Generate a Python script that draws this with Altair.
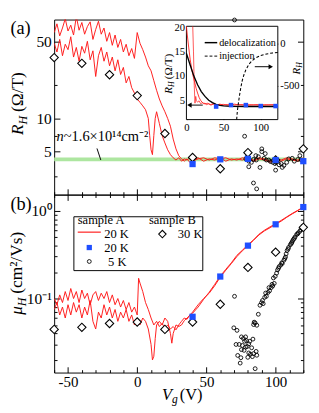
import altair as alt
import pandas as pd

FONT = "Liberation Serif"
W, HA, HB = 259, 182, 185
RED = "#ff1a1a"
BLUE = "#1f4fff"
GREEN = "#ade6a0"

# ---------------- data ----------------
# panel (a): sample A, 20 K, two sweeps, R_H (Ohm/T) vs Vg (V)
a1_v = [-60, -58, -56, -54, -52, -50, -48, -46, -44, -42, -40, -38, -36, -34, -32, -30, -28, -26, -24, -22,
        -20, -18, -16, -14, -12, -10, -8, -6, -4, -2, 0, 2, 4, 6, 8, 10, 12, 14, 16, 18,
        20, 22, 24, 26, 28, 30, 32, 34, 36, 38, 40, 44, 48, 52, 56, 60, 64, 68, 72, 76,
        80, 84, 88, 92, 96, 100, 104, 108, 112, 116, 120]
a1_r = [60, 72, 56, 66, 80, 62, 70, 57, 84, 63, 74, 58, 68, 75, 52, 64, 76, 58, 66, 50,
        60, 46, 57, 44, 52, 40, 47, 37, 43, 35, 60, 48, 42, 36, 30, 27, 22, 18, 15, 13,
        11.5, 10, 8.5, 6.5, 5.3, 4.6, 4.3, 4.1, 4.3, 4.0, 4.2, 4.4, 4.1, 4.3, 4.2, 4.4, 4.1, 4.3, 4.2, 4.4,
        4.3, 4.1, 4.3, 4.2, 4.0, 4.2, 4.1, 4.3, 4.2, 4.1, 4.3]
b1_v = [-60, -58, -56, -54, -52, -50, -48, -46, -44, -42, -40, -38, -36, -34, -32, -30, -28, -26, -24, -22,
        -20, -18, -16, -14, -12, -10, -8, -6, -4, -2, 0, 2, 4, 6, 8, 9, 10, 11, 12, 13, 14,
        16, 18, 20, 22, 24, 26, 28, 30, 32, 34, 36, 38, 40,
        44, 48, 52, 56, 60, 64, 68, 72, 76, 80, 84, 88, 92, 96, 100, 104, 108, 112, 116, 120]
b1_r = [48, 40, 52, 37, 47, 42, 55, 36, 44, 33, 45, 39, 50, 34, 41, 24, 37, 44, 33, 40,
        30, 36, 27, 34, 25, 29, 21, 24, 19, 17, 15, 14, 13, 12, 10, 7, 5.2, 4.7, 7, 10, 11.5,
        9, 7, 6, 5.2, 4.7, 4.4, 4.2, 4.4, 4.1, 4.3, 4.2, 4.4, 4.1,
        4.3, 4.4, 4.2, 4.4, 4.3, 4.4, 4.2, 4.3, 4.2, 4.4, 4.2, 4.4, 4.3, 4.1, 4.3, 4.2, 4.4, 4.3, 4.2, 4.4]

# panel (b): sample A, 20 K, two sweeps, mobility (cm^2/Vs)
a2_v = [-60, -58, -56, -54, -52, -50, -48, -46, -44, -42, -40, -38, -36, -34, -32, -30, -28, -26, -24, -22,
        -20, -18, -16, -14, -12, -10, -8, -6, -4, -2, 0, 1,
        2, 4, 6, 8, 10, 12, 14, 16, 18, 20, 22, 24, 26, 28, 30, 32, 34, 36, 38, 40,
        44, 48, 52, 56, 60, 64, 68, 72, 76, 80, 84, 88, 92, 96, 100, 104, 108, 112, 116, 120]
a2_r = [0.10, 0.085, 0.11, 0.09, 0.12, 0.095, 0.13, 0.10, 0.12, 0.09, 0.125, 0.10, 0.115, 0.085, 0.11, 0.12,
        0.095, 0.115, 0.10, 0.12, 0.09, 0.11, 0.085, 0.10, 0.08, 0.095, 0.075, 0.09, 0.07, 0.08, 0.065, 0.17,
        0.15, 0.12, 0.09, 0.075, 0.06, 0.05, 0.055, 0.048, 0.052, 0.046, 0.05, 0.045, 0.048, 0.044, 0.05,
        0.055, 0.06, 0.058, 0.065, 0.07,
        0.085, 0.10, 0.115, 0.14, 0.175, 0.21, 0.25, 0.30, 0.35, 0.40, 0.46, 0.53, 0.59, 0.64, 0.70, 0.76,
        0.84, 0.92, 1.0, 1.1]
b2_v = [-60, -58, -56, -54, -52, -50, -48, -46, -44, -42, -40, -38, -36, -34, -32, -30, -28, -26, -24, -22,
        -20, -18, -16, -14, -12, -10, -8, -6, -4, -2, 0, 2, 4, 6, 8, 10, 11, 12, 13, 14,
        16, 18, 20, 22, 24, 25, 26, 28, 30, 32, 34, 36, 38, 40,
        44, 48, 52, 56, 60, 64, 68, 72, 76, 80, 84, 88, 92, 96, 100, 104, 108, 112, 116, 120]
b2_r = [0.075, 0.09, 0.065, 0.08, 0.06, 0.085, 0.065, 0.09, 0.07, 0.085, 0.06, 0.08, 0.065, 0.095, 0.055,
        0.045, 0.07, 0.06, 0.085, 0.065, 0.08, 0.06, 0.075, 0.055, 0.07, 0.06, 0.075, 0.055, 0.065, 0.05,
        0.055, 0.05, 0.06, 0.055, 0.045, 0.03, 0.02, 0.022, 0.035, 0.05,
        0.055, 0.05, 0.06, 0.055, 0.04, 0.031, 0.04, 0.05, 0.048, 0.05, 0.056, 0.06, 0.064, 0.068,
        0.08, 0.098, 0.118, 0.145, 0.18, 0.215, 0.255, 0.31, 0.355, 0.41, 0.465, 0.54, 0.60, 0.655, 0.71,
        0.775, 0.85, 0.93, 1.01, 1.1]

# sample A, 20 K, Hall-bar squares
sqA_v = [40, 60, 80, 100, 120]
sqA_r = [3.86, 4.26, 4.3, 4.2, 4.1]
sqB_mu = [0.062, 0.178, 0.40, 0.70, 1.1]

# sample B, 30 K diamonds
dia_v = [-60, -40, -20, 0, 20, 40, 60, 80, 100, 120]
dia_r = [35.6, 31.6, 24.9, 16.1, 7.3, 4.43, 3.5, 4.9, 4.2, 5.3]
dia_mu = [0.0445, 0.047, 0.052, 0.054, 0.0445, 0.054, 0.086, 0.226, 0.337, 0.646]

# sample A, 5 K circles, panel (a)
c5a_v = [70.3, 77.6, 79.5, 80.6, 82.5, 80.6, 84, 85.7, 87.5, 90, 88.7, 91.7, 93.3, 95, 96.3, 98, 99.5,
         101, 102.5, 104, 104.8, 106, 100, 108, 109.5, 112, 113.5, 116, 117.5, 118.5, 84, 86.3, 80.6,
         90, 92.5, 86, 78.5]
c5a_r = [78, 6.9, 4.5, 4.1, 4.0, 3.65, 4.25, 4.6, 4.5, 5.0, 3.6, 4.35, 4.2, 4.2, 4.07, 4.0, 3.9,
         4.1, 3.8, 3.9, 3.6, 3.75, 3.4, 4.0, 4.3, 4.35, 4.1, 4.25, 4.6, 4.2, 2.6, 2.3, 4.9,
         5.3, 4.8, 4.2, 4.3]
# sample A, 5 K circles, panel (b)
c5b_v = [70.3, 69.8, 72.1, 71.4, 73.7, 75.3, 76.7, 78.3, 77.6, 76.0, 75.3, 77.2, 79.5, 80.6, 81.3, 83.6,
         82.7, 80.6, 81.8, 79.9, 84.1, 85.9, 86.4, 83.2, 72.6, 74.9, 74.4, 85.2, 79.0, 78.3,
         84.1, 85.2, 86.4, 84.5, 87.5, 88.7, 89.8, 91.0, 90.5, 92.1, 93.3, 92.8, 94.5, 95.6, 95.2, 96.8,
         97.4, 97.9, 99.0, 98.4, 99.7, 100.7, 101.4, 102.1, 102.5, 103.7, 104.4, 104.8, 106.0, 106.6,
         107.1, 107.6, 108.3, 109.0, 109.4, 110.6, 111.3, 111.7, 112.2, 112.9, 113.5, 114.0, 115.2,
         115.9, 116.3, 117.5, 118.2, 119.1]
c5b_mu = [0.106, 0.0464, 0.0434, 0.0300, 0.0300, 0.0366, 0.0351, 0.0366, 0.0326, 0.0292, 0.0262, 0.0257,
          0.0284, 0.0305, 0.0326, 0.0345, 0.0275, 0.0240, 0.0232, 0.0214, 0.0236, 0.0250, 0.0226, 0.0218,
          0.0225, 0.0212, 0.0184, 0.0159, 0.0331, 0.0280,
          0.0505, 0.0527, 0.0496, 0.0538, 0.0662, 0.0838, 0.0897, 0.0874, 0.095, 0.1033, 0.106, 0.1155,
          0.1173, 0.1224, 0.1332, 0.1332, 0.145, 0.139, 0.1487, 0.1715, 0.179, 0.1945, 0.212, 0.221,
          0.2306, 0.2405, 0.255, 0.2505, 0.273, 0.2845, 0.297, 0.3225, 0.3515, 0.366, 0.382, 0.409,
          0.423, 0.434, 0.453, 0.472, 0.484, 0.502, 0.536, 0.545, 0.559, 0.583, 0.607, 0.635]

# inset: R_H (Ohm/T) 0-120 V
ia_v = [0, 1, 3, 5, 7, 9, 11, 13, 15, 17, 19, 21, 23, 25, 27, 30, 33, 36, 40, 45, 50, 55, 60, 65, 70,
        75, 80, 85, 90, 95, 100, 105, 110, 115, 120]
ia_r = [20.3, 18.7, 16, 13.5, 11.5, 10, 8.8, 7.5, 6.5, 5.6, 5.0, 4.6, 4.3, 4.4, 4.1, 4.3, 4.0, 4.2, 4.0,
        4.2, 4.0, 4.1, 4.0, 4.2, 4.0, 4.1, 3.95, 4.1, 4.0, 4.1, 3.95, 4.1, 4.0, 4.1, 4.0]
ib_v = [8.5, 9.5, 10.5, 11.5, 12.5, 13.5, 15, 17, 19, 22, 25, 28, 32, 36, 40, 45, 50, 55, 60, 65, 70, 75,
        80, 85, 90, 95, 100, 105, 110, 115, 120]
ib_r = [20.3, 15, 8, 4.4, 5.8, 4.9, 4.6, 4.9, 4.3, 4.5, 4.2, 4.4, 4.1, 4.3, 4.0, 4.1, 4.15, 4.0, 4.1, 4.0,
        4.15, 4.0, 4.1, 3.95, 4.1, 4.0, 4.05, 3.95, 4.1, 4.0, 4.05]
isq_v = [40, 60, 80, 100, 120]
isq_r = [3.7, 4.0, 4.0, 3.8, 3.8]
deloc_v = [0, 5, 10, 15, 20, 25, 30, 35, 40, 45, 50, 60, 80, 100, 123]
deloc_r = [14.7, 12.3, 10.0, 8.2, 6.8, 5.8, 5.0, 4.5, 4.15, 3.95, 3.85, 3.75, 3.7, 3.7, 3.7]
inj_v = [67.6, 68.5, 70, 71.5, 73, 75, 77.5, 80, 84, 88, 93, 100, 108, 116, 123]
inj_r = [-898, -800, -700, -610, -530, -440, -365, -310, -245, -205, -170, -140, -122, -110, -104]

minor_x = [-60, -40, -30, -20, -10, 10, 20, 30, 40, 60, 70, 80, 90, 110, 120]
minor_mu = [0.02, 0.03, 0.04, 0.05, 0.06, 0.07, 0.08, 0.09, 0.2, 0.3, 0.4, 0.5, 0.6, 0.7, 0.8, 0.9]

# ---------------- helpers ----------------
one = pd.DataFrame({"k": [0]})
dummy = pd.DataFrame({"v": [0.0], "r": [1.0]})


def D(v, r):
    return pd.DataFrame({"v": v, "r": r, "i": list(range(len(v)))})


def sxa():
    return alt.Scale(domain=[-60, 120], nice=False, zero=False)


def sya():
    return alt.Scale(type="log", domain=[2.04, 78.7], nice=False)


def syb():
    return alt.Scale(type="log", domain=[0.01435, 1.524], nice=False)


def sxi():
    return alt.Scale(domain=[0, 123], range=[137.5, 232.5], nice=False, zero=False)


def syi():
    return alt.Scale(domain=[1.0, 20.3], range=[104, 7], nice=False, zero=False)


def syi2():
    return alt.Scale(domain=[-898, 204.5], range=[104, 7], nice=False, zero=False)


def line(d, xs, ys, color=RED, sw=1.0, dash=None, clip=False, opacity=1.0):
    m = dict(color=color, strokeWidth=sw, clip=clip, opacity=opacity)
    if dash:
        m["strokeDash"] = dash
    return alt.Chart(d).mark_line(**m).encode(
        x=alt.X("v:Q", scale=xs, axis=None),
        y=alt.Y("r:Q", scale=ys, axis=None),
        order=alt.Order("i:Q"))


def points(d, xs, ys, **m):
    return alt.Chart(d).mark_point(**m).encode(
        x=alt.X("v:Q", scale=xs, axis=None),
        y=alt.Y("r:Q", scale=ys, axis=None))


def ax(orient, values, size, labels=False, expr=None, fs=16, pad=3, offset=None):
    kw = dict(orient=orient, values=values, tickSize=size, domain=False, grid=False,
              labels=labels, title=None, ticks=True, tickColor="black", tickWidth=1,
              offset=(-size if offset is None else offset),
              labelFont=FONT, labelFontSize=fs, labelColor="black", labelPadding=pad,
              labelOverlap=False, labelBound=False, labelFlush=False)
    if expr:
        kw["labelExpr"] = expr
    return alt.Axis(**kw)


def axes(xs=None, ys=None, xaxis=None, yaxis=None):
    enc = {}
    if xs is not None:
        enc["x"] = alt.X("v:Q", scale=xs, axis=xaxis)
    if ys is not None:
        enc["y"] = alt.Y("r:Q", scale=ys, axis=yaxis)
    return alt.Chart(dummy).mark_point(opacity=0).encode(**enc)


def txt(s, x, y, fs=14, style="normal", align="left", baseline="middle", angle=0):
    m = dict(text=s, font=FONT, fontSize=fs, fontStyle=style, align=align,
             baseline=baseline, color="black")
    if angle:
        m["angle"] = angle
    return alt.Chart(one).mark_text(**m).encode(x=alt.value(x), y=alt.value(y))


NUM = "'' + datum.value"

# ---------------- panel (a) ----------------
pa = [
    axes(sxa(), sya(), ax("bottom", [-50, 0, 50, 100], 6),
         ax("left", [5, 10, 50], 6, labels=True, expr=NUM, fs=16, pad=3)),
    axes(sxa(), sya(), ax("bottom", minor_x, 3), ax("left", [3, 7, 20], 3)),
    axes(None, sya(), None, ax("right", [5, 10, 50], 6)),
    axes(None, sya(), None, ax("right", [3, 7, 20], 3)),
    alt.Chart(one).mark_rule(color=GREEN, strokeWidth=4).encode(
        y=alt.Y(datum=4.25, scale=sya(), axis=None)),
    alt.Chart(one).mark_rule(color="black", strokeWidth=1).encode(
        x=alt.value(44.5), x2=alt.value(48.5), y=alt.value(134), y2=alt.value(146)),
    txt("n", 2.5, 126, fs=15, style="italic", baseline="alphabetic"),
    txt("~1.6×10¹⁴cm⁻²", 10, 126, fs=15, baseline="alphabetic"),
    line(D(a1_v, a1_r), sxa(), sya(), clip=True),
    line(D(b1_v, b1_r), sxa(), sya(), clip=True),
    points(D(c5a_v, c5a_r), sxa(), sya(), shape="circle", size=16, filled=False,
           color="black", strokeWidth=0.9, opacity=1),
    points(D(dia_v, dia_r), sxa(), sya(), shape="diamond", size=75, filled=True,
           fill="white", stroke="black", strokeWidth=1.1, opacity=1),
    points(D(sqA_v, sqA_r), sxa(), sya(), shape="square", size=42, filled=True,
           color=BLUE, opacity=1),
    txt("(a)", -45.5, 9, fs=19),
    txt("R", -32, 120, fs=18, style="italic", baseline="alphabetic", angle=270),
    txt("H", -28, 109, fs=12.5, style="italic", baseline="alphabetic", angle=270),
    txt("(Ω/T)", -32, 96, fs=18, baseline="alphabetic", angle=270),
    # ---- inset ----
    alt.Chart(one).mark_rect(fill="white", stroke="black", strokeWidth=1).encode(
        x=alt.X(datum=0, scale=sxi(), axis=None), x2=alt.X2(datum=123),
        y=alt.Y(datum=1.0, scale=syi(), axis=None), y2=alt.Y2(datum=20.3)),
    axes(sxi(), syi(),
         ax("bottom", [0, 50, 100], 3, labels=True, expr=NUM, fs=11, pad=2, offset=-(HA - 104 + 3)),
         ax("left", [5, 10, 15, 20], 3, labels=True, expr=NUM, fs=11, pad=2, offset=-(137.5 + 3))),
    axes(None, syi2(), None,
         ax("right", [0, -500], 3, labels=True, expr="datum.value == 0 ? '0' : '-500'",
            fs=11, pad=2, offset=-(W - 232.5 + 3))),
    line(D(ia_v, ia_r), sxi(), syi(), opacity=0.9),
    line(D(ib_v, ib_r), sxi(), syi(), opacity=0.75),
    line(D(deloc_v, deloc_r), sxi(), syi(), color="black", sw=1.4),
    line(D(inj_v, inj_r), sxi(), syi2(), color="black", sw=1.1, dash=[3, 2]),
    points(D(isq_v, isq_r), sxi(), syi(), shape="square", size=22, filled=True,
           color=BLUE, opacity=1),
    alt.Chart(one).mark_rule(color="black", strokeWidth=1.5).encode(
        x=alt.value(156.5), x2=alt.value(169.5), y=alt.value(24)),
    alt.Chart(one).mark_rule(color="black", strokeWidth=1, strokeDash=[3, 2]).encode(
        x=alt.value(156.5), x2=alt.value(169.5), y=alt.value(38)),
    txt("delocalization", 171.5, 24, fs=10.5),
    txt("injection", 171.5, 38, fs=10.5),
    alt.Chart(one).mark_rule(color="black", strokeWidth=1).encode(
        x=alt.X(datum=22, scale=sxi(), axis=None), x2=alt.X2(datum=5),
        y=alt.Y(datum=4.0, scale=syi(), axis=None)),
    alt.Chart(one).mark_point(shape="triangle-left", filled=True, color="black", size=28,
                              opacity=1).encode(
        x=alt.X(datum=4, scale=sxi(), axis=None), y=alt.Y(datum=4.0, scale=syi(), axis=None)),
    alt.Chart(one).mark_rule(color="black", strokeWidth=1).encode(
        x=alt.X(datum=92, scale=sxi(), axis=None), x2=alt.X2(datum=112),
        y=alt.Y(datum=-273, scale=syi2(), axis=None)),
    alt.Chart(one).mark_point(shape="triangle-right", filled=True, color="black", size=28,
                              opacity=1).encode(
        x=alt.X(datum=113.5, scale=sxi(), axis=None), y=alt.Y(datum=-273, scale=syi2(), axis=None)),
    txt("R", 122.5, 77, fs=11.5, style="italic", baseline="alphabetic", angle=270),
    txt("H", 125, 70, fs=8, style="italic", baseline="alphabetic", angle=270),
    txt("(Ω/T)", 122.5, 62, fs=11.5, baseline="alphabetic", angle=270),
    txt("R", 255.5, 57, fs=11.5, style="italic", baseline="alphabetic", angle=270),
    txt("H", 258, 50, fs=8, style="italic", baseline="alphabetic", angle=270),
]
panel_a = alt.layer(*pa).resolve_scale(x="independent", y="independent").properties(
    width=W, height=HA)

# ---------------- panel (b) ----------------
pb = [
    axes(sxa(), syb(), ax("bottom", [-50, 0, 50, 100], 6, labels=True, expr=NUM, fs=15.5, pad=2),
         ax("left", [0.1, 1], 6, labels=True, expr="datum.value == 1 ? '10⁰' : '10⁻¹'", fs=16, pad=3)),
    axes(sxa(), syb(), ax("bottom", minor_x, 3), ax("left", minor_mu, 3)),
    axes(sxa(), syb(), ax("top", [-50, 0, 50, 100], 6), ax("right", [0.1, 1], 6)),
    axes(sxa(), syb(), ax("top", minor_x, 3), ax("right", minor_mu, 3)),
    line(D(a2_v, a2_r), sxa(), syb(), clip=True),
    line(D(b2_v, b2_r), sxa(), syb(), clip=True),
    points(D(c5b_v, c5b_mu), sxa(), syb(), shape="circle", size=16, filled=False,
           color="black", strokeWidth=0.9, opacity=1),
    points(D(dia_v, dia_mu), sxa(), syb(), shape="diamond", size=75, filled=True,
           fill="white", stroke="black", strokeWidth=1.1, opacity=1),
    points(D(sqA_v, sqB_mu), sxa(), syb(), shape="square", size=42, filled=True,
           color=BLUE, opacity=1),
    # legend
    alt.Chart(one).mark_rect(fill="white", stroke="black", strokeWidth=1).encode(
        x=alt.value(20.5), x2=alt.value(154.5), y=alt.value(23), y2=alt.value(79)),
    txt("sample A", 24.5, 27, fs=13),
    alt.Chart(one).mark_rule(color=RED, strokeWidth=1.2).encode(
        x=alt.value(24.5), x2=alt.value(48.5), y=alt.value(39)),
    txt("20 K", 52, 41.5, fs=13),
    alt.Chart(one).mark_point(shape="square", size=30, filled=True, color=BLUE, opacity=1).encode(
        x=alt.value(36.5), y=alt.value(55)),
    txt("20 K", 52, 56, fs=13),
    alt.Chart(one).mark_point(shape="circle", size=16, filled=False, color="black",
                              strokeWidth=0.9, opacity=1).encode(x=alt.value(36.5), y=alt.value(69.5)),
    txt("5 K", 56, 70.5, fs=13),
    txt("sample B", 98.5, 27, fs=13),
    alt.Chart(one).mark_point(shape="diamond", size=60, filled=True, fill="white", stroke="black",
                              strokeWidth=1.1, opacity=1).encode(x=alt.value(112.5), y=alt.value(41)),
    txt("30 K", 128.5, 41.5, fs=13),
    txt("(b)", -45.5, 10, fs=19),
    txt("μ", -33, 125, fs=18, style="italic", baseline="alphabetic", angle=270),
    txt("H", -29, 116, fs=12.5, style="italic", baseline="alphabetic", angle=270),
    txt("(cm²/Vs)", -33, 103, fs=18, baseline="alphabetic", angle=270),
    txt("V", 112, 213.5, fs=17, style="italic", baseline="alphabetic"),
    txt("g", 122.5, 216.5, fs=12, style="italic", baseline="alphabetic"),
    txt("(V)", 130.5, 213.5, fs=17, baseline="alphabetic"),
]
panel_b = alt.layer(*pb).resolve_scale(x="independent", y="independent").properties(
    width=W, height=HB)

chart = alt.vconcat(panel_a, panel_b, spacing=0, bounds="flush").resolve_scale(
    x="independent", y="independent").properties(padding=0).configure_view(
    stroke="black", strokeWidth=1)

chart.save("out.html", embed_options={"renderer": "svg", "actions": False})
